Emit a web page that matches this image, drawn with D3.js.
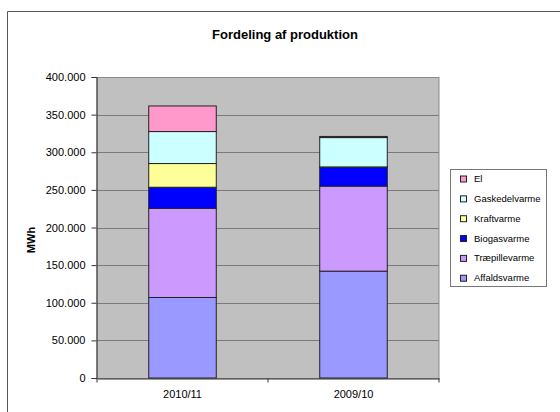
<!DOCTYPE html>
<html>
<head>
<meta charset="utf-8">
<script src="https://cdn.jsdelivr.net/npm/d3@7"></script>
<style>
body{margin:0;background:#fff;}
svg{font-family:"Liberation Sans",Arial,sans-serif;}
</style>
</head>
<body>
<svg id="chart" width="560" height="412"></svg>
<script>
var categories = ["2010/11", "2009/10"];
var series = ["Affaldsvarme", "Træpillevarme", "Biogasvarme", "Kraftvarme", "Gaskedelvarme", "El"];
var colors = ["#9999ff", "#cc99ff", "#0000ff", "#ffff99", "#ccffff", "#ff99cc"];
// værdier i MWh, en række pr. serie (samme orden som categories)
var affald = [107000, 142000];
var traepille = [118500, 113000];
var biogas = [28000, 25000];
var kraft = [31500, 500];
var gaskedel = [42500, 39000];
var el = [34000, 1500];
var yTicks = [0, 50000, 100000, 150000, 200000, 250000, 300000, 350000, 400000];

var values = [affald, traepille, biogas, kraft, gaskedel, el];
var rows = categories.map(function(c, i){
	var r = {cat: c};
	series.forEach(function(s, j){ r[s] = values[j][i]; });
	return r;
});

var svg = d3.select("#chart");
var pLeft = 97, pRight = 439, pTop = 77, pBottom = 378;

// ydre ramme
svg.append("path").attr("d", "M7.5,412 V11.5 H560")
	.attr("fill", "none").attr("stroke", "#555").attr("stroke-width", 1);

svg.append("text").attr("x", 285).attr("y", 39).attr("text-anchor", "middle")
	.style("font-size", "13px").style("font-weight", "bold").text("Fordeling af produktion");

var x = d3.scaleBand().domain(categories).range([pLeft, pRight]).paddingInner(0).paddingOuter(0);
var y = d3.scaleLinear().domain([0, 400000]).range([pBottom, pTop]);

svg.append("rect").attr("x", pLeft).attr("y", pTop + 0.5).attr("width", pRight - pLeft).attr("height", pBottom - pTop)
	.attr("fill", "#c0c0c0").attr("stroke", "#8a8a8a");

svg.append("g").selectAll("line").data(yTicks.slice(1, -1)).enter().append("line")
	.attr("x1", pLeft).attr("x2", pRight)
	.attr("y1", function(d){ return Math.round(y(d)) + 0.5; })
	.attr("y2", function(d){ return Math.round(y(d)) + 0.5; })
	.attr("stroke", "#7a7a7a").attr("stroke-width", 1);

var stack = d3.stack().keys(series)(rows);
var bw = x.bandwidth() * 0.395;
svg.append("g").selectAll("g").data(stack).enter().append("g")
	.attr("fill", function(d, i){ return colors[i]; })
	.selectAll("rect").data(function(d){ return d; }).enter().append("rect")
	.attr("x", function(d){ return x(d.data.cat) + (x.bandwidth() - bw) / 2; })
	.attr("width", bw)
	.attr("y", function(d){ return y(d[1]); })
	.attr("height", function(d){ return y(d[0]) - y(d[1]); })
	.attr("stroke", "#222").attr("stroke-width", 1);

var ya = svg.append("g").attr("transform", "translate(" + (pLeft - 0.5) + ",0)")
	.call(d3.axisLeft(y).tickValues(yTicks).tickSize(5).tickPadding(6)
		.tickFormat(function(d){ return d3.format(",")(d).replace(/,/g, "."); }));
ya.selectAll("path,line").attr("stroke", "#333");
ya.selectAll("text").style("font-size", "11px").style("font-family", "Liberation Sans, Arial, sans-serif").attr("fill", "#000");

var xa = svg.append("g").attr("transform", "translate(0," + (pBottom + 0.5) + ")")
	.call(d3.axisBottom(x).tickSize(0).tickPadding(12));
xa.select(".domain").attr("stroke", "#333");
xa.selectAll("text").style("font-size", "11px").style("font-family", "Liberation Sans, Arial, sans-serif").attr("fill", "#000");
xa.selectAll("line.sep").data(categories.concat([null])).enter().append("line").attr("class", "sep")
	.attr("x1", function(d, i){ return pLeft + i * x.step(); })
	.attr("x2", function(d, i){ return pLeft + i * x.step(); })
	.attr("y1", 0).attr("y2", 4).attr("stroke", "#333");

svg.append("text").attr("transform", "translate(35,240) rotate(-90)")
	.attr("text-anchor", "middle").style("font-size", "11px").style("font-weight", "bold").text("MWh");

// forklaring
var lg = svg.append("g");
lg.append("rect").attr("x", 450.5).attr("y", 169.5).attr("width", 96).attr("height", 117)
	.attr("fill", "#fff").attr("stroke", "#777");
var items = series.map(function(s, i){ return {name: s, color: colors[i]}; }).reverse();
var li = lg.selectAll("g.item").data(items).enter().append("g").attr("class", "item")
	.attr("transform", function(d, i){ return "translate(0," + (178.5 + i * 19.85) + ")"; });
li.append("rect").attr("x", 460.5).attr("y", -2.5).attr("width", 6).attr("height", 6)
	.attr("fill", function(d){ return d.color; }).attr("stroke", "#222");
li.append("text").attr("x", 474).attr("y", 3.5).style("font-size", "9.5px").text(function(d){ return d.name; });
</script>
</body>
</html>
